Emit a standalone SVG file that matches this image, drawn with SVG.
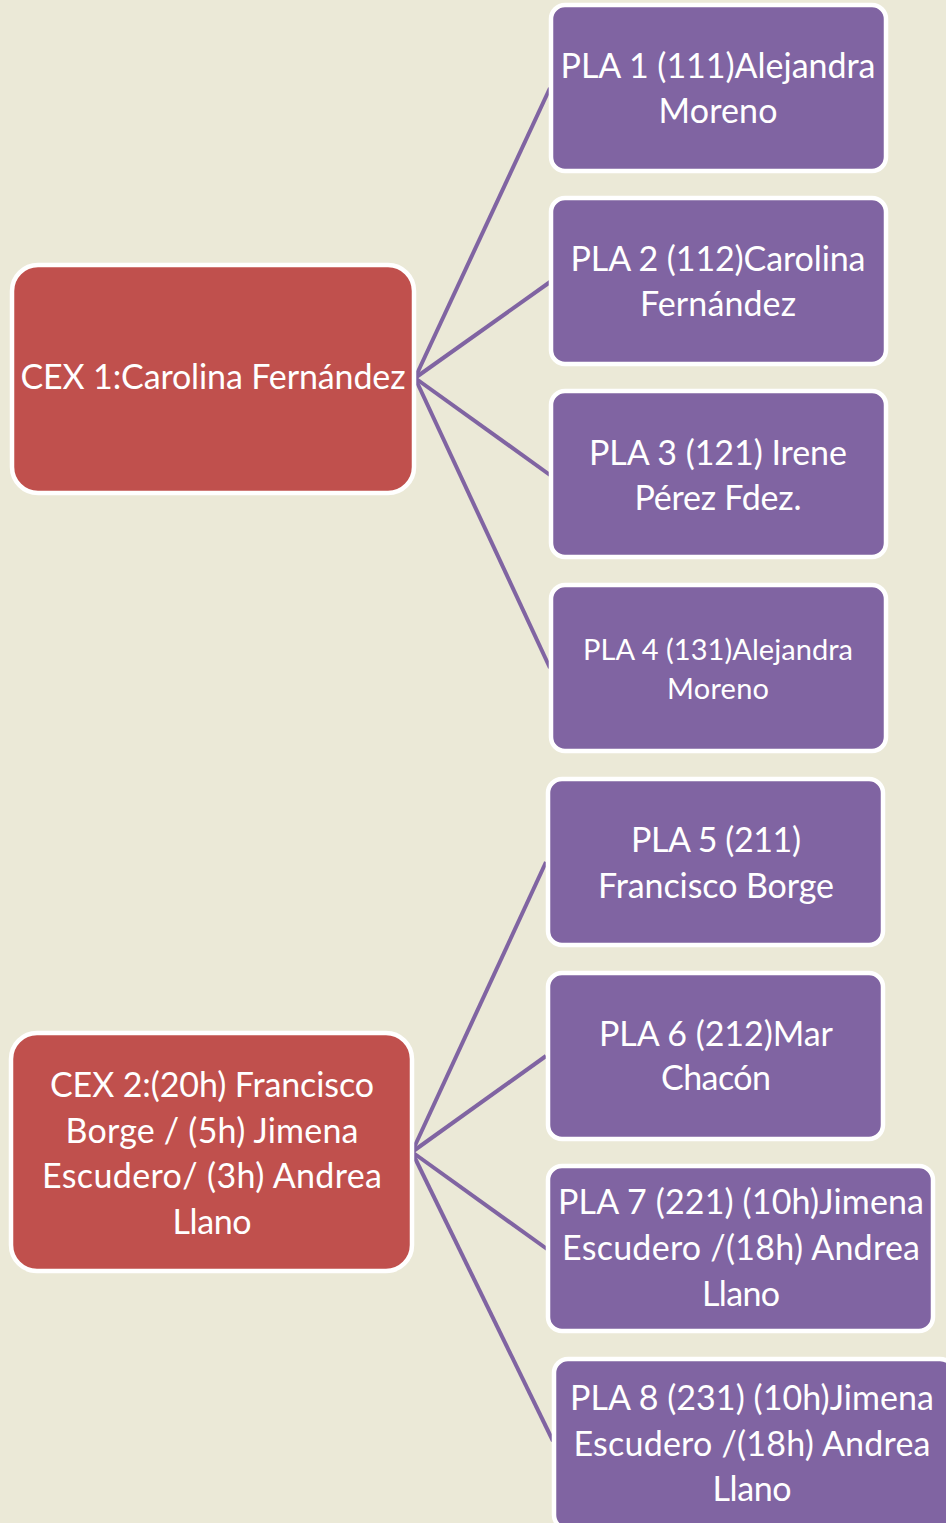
<svg xmlns="http://www.w3.org/2000/svg" width="946" height="1523" viewBox="0 0 946 1523">
<style>
.bg{fill:#EBE9D7}
.cex{fill:#C0504D;stroke:#FFFFFF;stroke-width:4.5}
.pla{fill:#8064A2;stroke:#FFFFFF;stroke-width:4.5}
.t{font-family:Lato,"Open Sans","Liberation Sans",sans-serif;font-size:34px;fill:#FFFFFF;text-anchor:middle}
.s{font-size:29px}
.ln{stroke:#8064A2;stroke-width:4;fill:none}
</style>
<rect class="bg" x="0" y="0" width="946" height="1523"/>
<g id="connectors">
<line class="ln" x1="415" y1="378" x2="550" y2="88"/>
<line class="ln" x1="415" y1="378" x2="550" y2="282"/>
<line class="ln" x1="415" y1="378" x2="550" y2="475"/>
<line class="ln" x1="415" y1="378" x2="550" y2="668"/>
<line class="ln" x1="412" y1="1152" x2="546" y2="862"/>
<line class="ln" x1="412" y1="1152" x2="546" y2="1056"/>
<line class="ln" x1="412" y1="1152" x2="547" y2="1249"/>
<line class="ln" x1="412" y1="1152" x2="553" y2="1441"/>
</g>
<g id="cex1">
<rect class="cex" x="12" y="265" width="402" height="228" rx="26"/>
<text class="t" x="213" y="389" textLength="385">CEX 1:Carolina Fernández</text>
</g>
<g id="pla1">
<rect class="pla" x="551" y="5" width="335" height="166" rx="14"/>
<text class="t" x="718" y="78" textLength="315">PLA 1 (111)Alejandra</text>
<text class="t" x="718" y="123" textLength="119">Moreno</text>
</g>
<g id="pla2">
<rect class="pla" x="551" y="198" width="335" height="166" rx="14"/>
<text class="t" x="718" y="271" textLength="295">PLA 2 (112)Carolina</text>
<text class="t" x="718" y="316" textLength="156">Fernández</text>
</g>
<g id="pla3">
<rect class="pla" x="551" y="391" width="335" height="166" rx="14"/>
<text class="t" x="718" y="465" textLength="258">PLA 3 (121) Irene</text>
<text class="t" x="718" y="510" textLength="167">Pérez Fdez.</text>
</g>
<g id="pla4">
<rect class="pla" x="551" y="585" width="335" height="166" rx="14"/>
<text class="t s" x="718" y="660" textLength="270">PLA 4 (131)Alejandra</text>
<text class="t s" x="718" y="699" textLength="102">Moreno</text>
</g>
<g id="pla5">
<rect class="pla" x="548" y="779" width="335" height="166" rx="14"/>
<text class="t" x="716" y="852" textLength="170">PLA 5 (211)</text>
<text class="t" x="716" y="898" textLength="236">Francisco Borge</text>
</g>
<g id="pla6">
<rect class="pla" x="548" y="973" width="335" height="166" rx="14"/>
<text class="t" x="716" y="1046" textLength="234">PLA 6 (212)Mar</text>
<text class="t" x="716" y="1090" textLength="110">Chacón</text>
</g>
<g id="cex2">
<rect class="cex" x="11" y="1033" width="401" height="238" rx="26"/>
<text class="t" x="212" y="1097" textLength="324">CEX 2:(20h) Francisco</text>
<text class="t" x="212" y="1143" textLength="293">Borge / (5h) Jimena</text>
<text class="t" x="212" y="1188" textLength="340">Escudero/ (3h) Andrea</text>
<text class="t" x="212" y="1234" textLength="79">Llano</text>
</g>
<g id="pla7">
<rect class="pla" x="548" y="1166" width="385" height="165" rx="14"/>
<text class="t" x="741" y="1214" textLength="366">PLA 7 (221) (10h)Jimena</text>
<text class="t" x="741" y="1260" textLength="358">Escudero /(18h) Andrea</text>
<text class="t" x="741" y="1306" textLength="78">Llano</text>
</g>
<g id="pla8">
<rect class="pla" x="554" y="1359" width="400" height="170" rx="14"/>
<text class="t" x="752" y="1410" textLength="364">PLA 8 (231) (10h)Jimena</text>
<text class="t" x="752" y="1456" textLength="357">Escudero /(18h) Andrea</text>
<text class="t" x="752" y="1501" textLength="79">Llano</text>
</g>
</svg>
